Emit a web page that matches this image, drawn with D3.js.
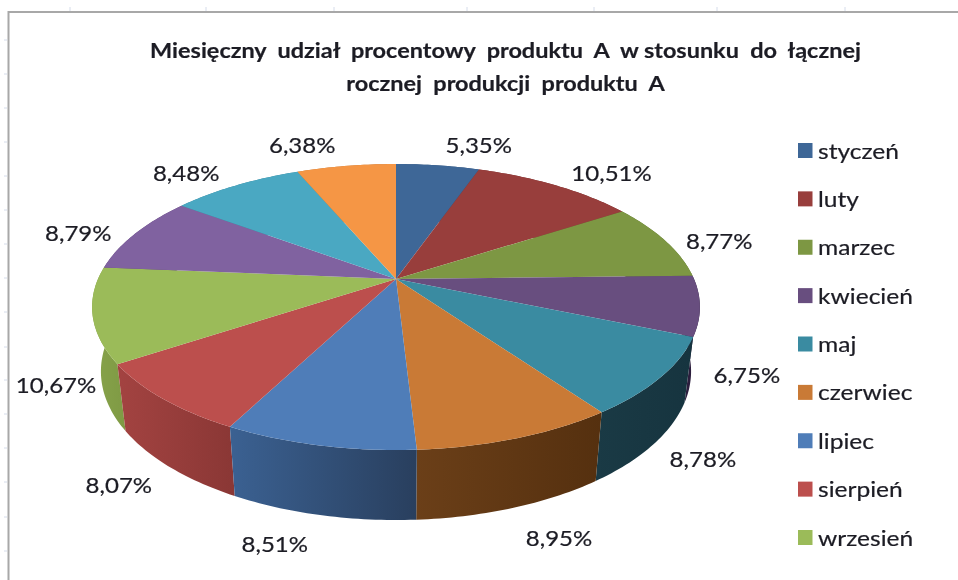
<!DOCTYPE html>
<html><head><meta charset="utf-8">
<script src="https://cdn.jsdelivr.net/npm/d3@7/dist/d3.min.js"></script>
<style>
html,body{margin:0;padding:0;background:#fff;overflow:hidden}
svg{display:block;filter:blur(0.45px)}
text{font-family:Lato,"Open Sans",sans-serif;fill:#1c1c24;stroke:#1c1c24;stroke-width:0.2px}
</style></head><body>
<svg id="c" width="958" height="580" xmlns="http://www.w3.org/2000/svg"></svg>
<script>
const months = ["styczeń","luty","marzec","kwiecień","maj","czerwiec","lipiec","sierpień","wrzesień","październik","listopad","grudzień"];
const shares = [5.35,10.51,8.77,6.75,8.78,8.95,8.51,8.07,10.67,8.79,8.48,6.38];
const shareLabels = ["5,35%","10,51%","8,77%","6,75%","8,78%","8,95%","8,51%","8,07%","10,67%","8,79%","8,48%","6,38%"];
const legendMonths = months.slice(0,9);
const topColors = ["#3e6797","#983e3c","#7d9743","#684e7f","#3a8ba1","#c97a36","#4f7db8","#bc4f4d","#9bbb59","#8062a0","#4aa8c2","#f59645"];
const wallLeft  = ["#2f4f75","#762f2e","#617534","#2d1f3f","#1a3a45","#6b3f18","#3b6192","#a34341","#87a34b","#63497c","#398296","#be7435"];
const wallRight = ["#2f4f75","#762f2e","#617534","#2a1c3a","#16343f","#55300f","#293f5e","#8a3735","#7f9a44","#63497c","#398296","#be7435"];
const titleLines = ["Miesięczny  udział  procentowy  produktu  A  w stosunku  do  łącznej","rocznej  produkcji  produktu  A"];
const rulerTop = [70,206,334,467,594,717,845];
const rulerLeft = [40,74,108,142,176,210,244,278,312,347,380,414,448,482,517,551];
// label offsets from the slice rim, the original chart's placement
const labelNudge = [[41,-12],[56,-4],[54,8],[47,77],[42,90],[42,108],[-44,107],[-44,94],[-36.5,78],[-57,7.5],[-50,-4],[-44,-13]];

const svg = d3.select("#c");
const defs = svg.append("defs");
const cx=396, cy=279, Rx=298, Ry=137.5, persp=0.196, stretch=1.145;
const sx = d3.scaleLinear().domain([-1,1]).range([cx-Rx,cx+Rx]);
const sy = d3.scaleLinear().domain([-1,1]).range([cy-Ry,cy+Ry]);
const color = d3.scaleOrdinal(months, topColors);
const project = a => {
  const X=Math.sin(a), Y=-Math.cos(a), s=1/(1-persp*Y);
  return {x:sx(X*s), y:sy(Y*s), Y};
};
const lower = a => {
  const p=project(a), f=0.971;
  return {x:cx+(p.x-cx)*f, y:p.y+63+7*p.Y};
};
const arcs = d3.pie().sort(null).value(d=>d)(shares);
const line = d3.line().x(d=>d.x).y(d=>d.y);
const samples = (a0,a1) => { const n=Math.max(4,Math.ceil((a1-a0)*60)); return d3.range(n+1).map(i=>a0+(a1-a0)*i/n); };
const place = (x,y,k=stretch) => `translate(${x},${y}) scale(${k},1)`;

// ruler ticks outside the frame
svg.append("g").selectAll("line").data(rulerTop).join("line")
  .attr("x1",d=>d).attr("x2",d=>d).attr("y1",7).attr("y2",11).attr("stroke","#d5dcea");
svg.append("g").selectAll("line").data(rulerLeft).join("line")
  .attr("x1",4).attr("x2",7).attr("y1",d=>d).attr("y2",d=>d).attr("stroke","#d5dcea");
svg.append("path").attr("d","M8.5,580V12H958").attr("fill","none").attr("stroke","#a8a8a8").attr("stroke-width",2);

// title
svg.append("g").selectAll("text").data(titleLines).join("text")
  .attr("transform",(d,i)=>place(505.5,58+i*33)).attr("text-anchor","middle")
  .attr("font-size",20.5).attr("font-weight",700).style("white-space","pre").text(d=>d);

// walls, back to front
const order = d3.range(arcs.length).sort((a,b)=>
  project((arcs[a].startAngle+arcs[a].endAngle)/2).Y - project((arcs[b].startAngle+arcs[b].endAngle)/2).Y);
order.forEach(i=>{
  const d=arcs[i], id="w"+i;
  const g=defs.append("linearGradient").attr("id",id);
  g.append("stop").attr("offset",0).attr("stop-color",wallLeft[i]);
  g.append("stop").attr("offset",1).attr("stop-color",wallRight[i]);
  const as=samples(d.startAngle,d.endAngle);
  const pts=as.map(project).concat(as.slice().reverse().map(lower));
  svg.append("path").attr("d",line(pts)+"Z").attr("fill",`url(#${id})`);
});
// top faces
svg.append("g").selectAll("path").data(arcs).join("path")
  .attr("d",d=>line([{x:sx(0),y:sy(0)}].concat(samples(d.startAngle,d.endAngle).map(project)))+"Z")
  .attr("fill",(d,i)=>color(months[i]));

// data labels
svg.append("g").selectAll("text").data(arcs).join("text")
  .attr("transform",(d,i)=>{const p=project((d.startAngle+d.endAngle)/2);return place(p.x+labelNudge[i][0],p.y+labelNudge[i][1]);})
  .attr("text-anchor","middle").attr("font-size",21).text((d,i)=>shareLabels[i]);

// legend
const ly = d3.scalePoint().domain(legendMonths).range([150.5,537.5]);
const lg = svg.append("g").selectAll("g").data(legendMonths).join("g");
lg.append("rect").attr("x",798).attr("y",d=>ly(d)-7.5).attr("width",14.5).attr("height",15).attr("fill",d=>color(d));
lg.append("text").attr("transform",d=>place(818,ly(d)+8,1.17)).attr("font-size",21).text(d=>d);
</script>
</body></html>
